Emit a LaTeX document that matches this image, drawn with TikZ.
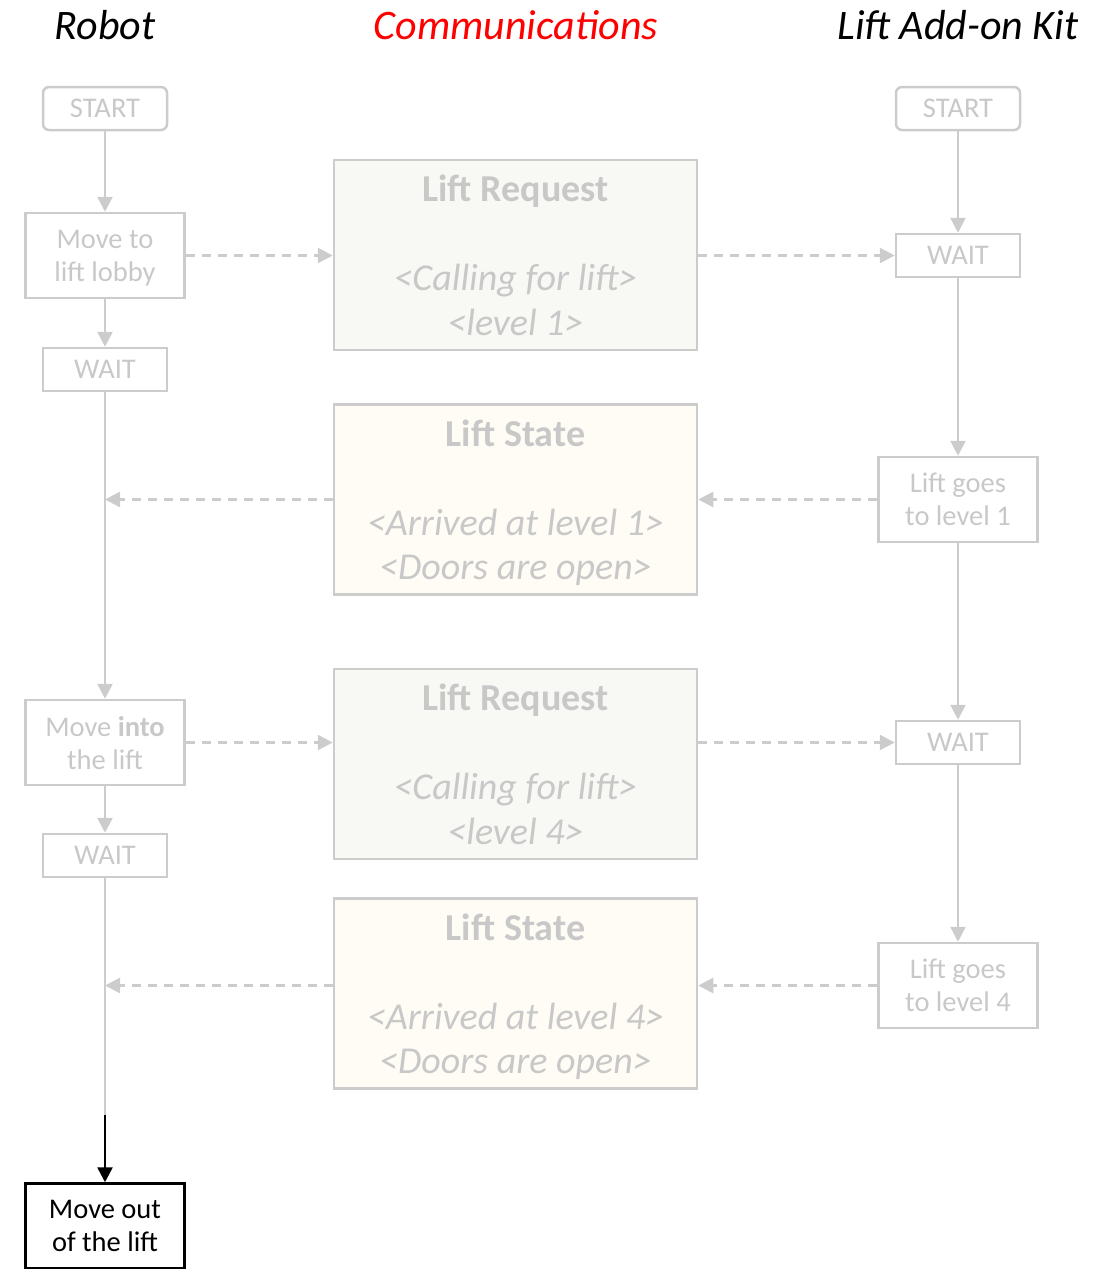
\documentclass[tikz,border=0pt]{standalone}
\usepackage{fontspec}
\setmainfont{Carlito}
\usetikzlibrary{arrows.meta}
\definecolor{ln}{RGB}{204,204,204}
\definecolor{tx}{RGB}{200,200,200}
\definecolor{reqfill}{RGB}{248,249,245}
\definecolor{statefill}{RGB}{254,252,244}
\definecolor{hdrred}{RGB}{255,0,0}
\begin{document}
\begin{tikzpicture}[x=1pt,y=-1pt,
  box/.style={draw=ln, line width=2.5pt, text=tx, font=\fontsize{28.5}{33}\selectfont, align=center, inner sep=0pt, text depth=0pt},
  smallbox/.style={box, minimum width=124pt, minimum height=43pt},
  startbox/.style={smallbox, rounded corners=6pt},
  widebox/.style={box, minimum width=159pt, minimum height=85pt},
  msgbox/.style={draw=ln, line width=2.5pt, text=tx, font=\fontsize{38}{44.5}\selectfont, align=center, minimum width=363pt, minimum height=190pt, inner sep=0pt, text depth=0pt},
  flow/.style={draw=ln, line width=2.5pt, -{Triangle[length=15pt,width=15pt]}},
  signal/.style={flow, dash pattern=on 9pt off 7pt},
  hdr/.style={font=\fontsize{42}{48}\selectfont\itshape}
]
\useasboundingbox (0,0) rectangle (1102,1269);

% column headings
\node[hdr] (hrobot) at (105,25) {Robot};
\node[hdr, text=hdrred] (hcomm) at (516,25) {Communications};
\node[hdr] (hkit) at (958,25) {Lift Add-on Kit};

% robot column
\node[startbox] (rstart) at (105,108.5) {START};
\node[widebox] (rmove) at (105,255.5) {Move to\\lift lobby};
\node[smallbox] (rwait1) at (105,369.5) {WAIT};
\node[widebox] (rinto) at (105,742.5) {Move \textbf{into}\\the lift};
\node[smallbox] (rwait2) at (105,855.5) {WAIT};
\node[widebox, draw=black, text=black] (rout) at (105,1226) {Move out\\of the lift};

% lift add-on kit column
\node[startbox] (kstart) at (958,108.5) {START};
\node[smallbox] (kwait1) at (958,255.5) {WAIT};
\node[widebox] (kgo1) at (958,499.5) {Lift goes\\to level 1};
\node[smallbox] (kwait2) at (958,742.5) {WAIT};
\node[widebox] (kgo4) at (958,985.5) {Lift goes\\to level 4};

% messages
\node[msgbox, fill=reqfill] (req1) at (515.5,255) {\textbf{Lift Request}\\\mbox{}\\\textit{<Calling for lift>}\\\textit{<level 1>}};
\node[msgbox, fill=statefill] (state1) at (515.5,499.5) {\textbf{Lift State}\\\mbox{}\\\textit{<Arrived at level 1>}\\\textit{<Doors are open>}};
\node[msgbox, fill=reqfill] (req2) at (515.5,764) {\textbf{Lift Request}\\\mbox{}\\\textit{<Calling for lift>}\\\textit{<level 4>}};
\node[msgbox, fill=statefill] (state2) at (515.5,993.5) {\textbf{Lift State}\\\mbox{}\\\textit{<Arrived at level 4>}\\\textit{<Doors are open>}};

% robot flow
\draw[flow] (rstart) -- (rmove);
\draw[flow] (rmove) -- (rwait1);
\draw[flow] (rwait1) -- (rinto);
\draw[flow] (rinto) -- (rwait2);
\coordinate (rbreak) at (105,1115);
\draw[draw=ln, line width=2.5pt] (rwait2.south) -- (rbreak);
\draw[flow, draw=black] (rbreak) -- (rout);

% kit flow
\draw[flow] (kstart) -- (kwait1);
\draw[flow] (kwait1) -- (kgo1);
\draw[flow] (kgo1) -- (kwait2);
\draw[flow] (kwait2) -- (kgo4);

% signals
\draw[signal] (rmove.east) -- (rmove.east -| req1.west);
\draw[signal] (kwait1.west -| req1.east) -- (kwait1.west);
\draw[signal] (kgo1.west) -- (kgo1.west -| state1.east);
\draw[signal] (kgo1.west -| state1.west) -- (kgo1.west -| rwait1.south);
\draw[signal] (rinto.east) -- (rinto.east -| req2.west);
\draw[signal] (kwait2.west -| req2.east) -- (kwait2.west);
\draw[signal] (kgo4.west) -- (kgo4.west -| state2.east);
\draw[signal] (kgo4.west -| state2.west) -- (kgo4.west -| rwait2.south);
\end{tikzpicture}
\end{document}
